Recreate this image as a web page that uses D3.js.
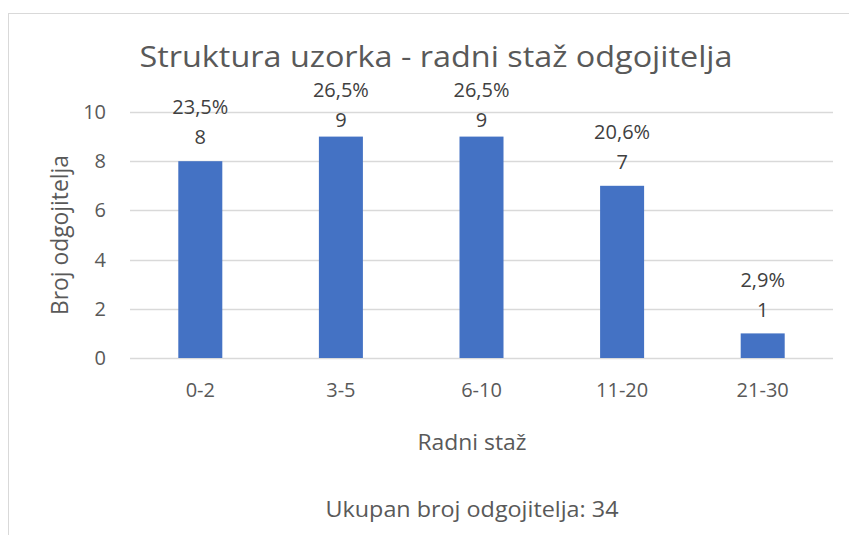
<!DOCTYPE html>
<html>
<head>
<meta charset="utf-8">
<script src="https://cdn.jsdelivr.net/npm/d3@7"></script>
<style>
  body { margin: 0; background: #fff; }
  text { font-family: "Open Sans", "Noto Sans", sans-serif; }
</style>
</head>
<body>
<div id="chart"></div>
<script>
// data
var categories = ["0-2", "3-5", "6-10", "11-20", "21-30"];
var counts = [8, 9, 9, 7, 1];
var percents = ["23,5%", "26,5%", "26,5%", "20,6%", "2,9%"];
var yTicks = [0, 2, 4, 6, 8, 10];

var W = 849, H = 535;
var plot = {left: 130, right: 833, top: 112, bottom: 358};
var textColor = "#595959", labelColor = "#404040", gridColor = "#d9d9d9", barColor = "#4472c4";

var svg = d3.select("#chart").append("svg")
    .attr("width", W)
    .attr("height", H);

// chart frame (right/bottom edges fall outside the window)
svg.append("rect")
    .attr("x", 8.5).attr("y", 13.5)
    .attr("width", W + 20).attr("height", H + 20)
    .attr("fill", "#fff")
    .attr("stroke", gridColor)
    .attr("stroke-width", 1);

var x = d3.scaleBand()
    .domain(categories)
    .range([plot.left, plot.right])
    .paddingInner(0.687)
    .paddingOuter(0.687 / 2);

var y = d3.scaleLinear()
    .domain([0, 10])
    .range([plot.bottom, plot.top]);

// gridlines
svg.append("g").selectAll("line")
    .data(yTicks)
    .enter().append("line")
        .attr("x1", plot.left).attr("x2", plot.right)
        .attr("y1", function(d) { return Math.round(y(d)) + 0.5; })
        .attr("y2", function(d) { return Math.round(y(d)) + 0.5; })
        .attr("stroke", gridColor)
        .attr("stroke-width", 1.5);

// y axis labels
var yAxis = d3.axisLeft(y).tickValues(yTicks).tickSize(0).tickPadding(0);
var gy = svg.append("g")
    .attr("transform", "translate(106,0)")
    .call(yAxis);
gy.select(".domain").remove();
gy.selectAll("text")
    .attr("fill", textColor)
    .attr("font-size", 20)
    .style("font-family", "'Open Sans', sans-serif");

// x axis labels
var xAxis = d3.axisBottom(x).tickSize(0).tickPadding(0);
var gx = svg.append("g")
    .attr("transform", "translate(0,397)")
    .call(xAxis);
gx.select(".domain").remove();
gx.selectAll("text")
    .attr("dy", 0)
    .attr("fill", textColor)
    .attr("font-size", 20)
    .style("font-family", "'Open Sans', sans-serif");

// bars
svg.selectAll(".bar")
    .data(counts)
    .enter().append("rect")
        .attr("class", "bar")
        .attr("x", function(d, i) { return x(categories[i]); })
        .attr("y", function(d) { return y(d); })
        .attr("width", x.bandwidth())
        .attr("height", function(d) { return y(0) - y(d); })
        .attr("fill", barColor);

// data labels: percent on top, count below; pushed down when they would hit the title
function pctY(v) { return Math.max(y(v) - 54, 89.5); }

svg.selectAll(".val")
    .data(counts)
    .enter().append("text")
        .attr("class", "val")
        .attr("x", function(d, i) { return x(categories[i]) + x.bandwidth() / 2; })
        .attr("y", function(d) { return pctY(d) + 30; })
        .attr("dy", "0.36em")
        .attr("text-anchor", "middle")
        .attr("font-size", 20)
        .attr("fill", labelColor)
        .text(function(d) { return d; });

svg.selectAll(".pct")
    .data(percents)
    .enter().append("text")
        .attr("class", "pct")
        .attr("x", function(d, i) { return x(categories[i]) + x.bandwidth() / 2; })
        .attr("y", function(d, i) { return pctY(counts[i]); })
        .attr("dy", "0.36em")
        .attr("text-anchor", "middle")
        .attr("font-size", 20)
        .attr("fill", labelColor)
        .text(function(d) { return d; });

// title
svg.append("text")
    .attr("x", 436)
    .attr("y", 67)
    .attr("text-anchor", "middle")
    .attr("font-size", 30)
    .attr("fill", textColor)
    .attr("textLength", 593)
    .attr("lengthAdjust", "spacingAndGlyphs")
    .text("Struktura uzorka - radni staž odgojitelja");

// axis titles
svg.append("text")
    .attr("transform", "translate(60," + ((plot.top + plot.bottom) / 2) + ") rotate(-90)")
    .attr("text-anchor", "middle")
    .attr("dy", "0.36em")
    .attr("font-size", 23)
    .attr("fill", textColor)
    .attr("textLength", 160)
    .attr("lengthAdjust", "spacingAndGlyphs")
    .text("Broj odgojitelja");

svg.append("text")
    .attr("x", 472)
    .attr("y", 450)
    .attr("text-anchor", "middle")
    .attr("font-size", 22)
    .attr("fill", textColor)
    .attr("textLength", 109)
    .attr("lengthAdjust", "spacingAndGlyphs")
    .text("Radni staž");

svg.append("text")
    .attr("x", 472)
    .attr("y", 517)
    .attr("text-anchor", "middle")
    .attr("font-size", 22)
    .attr("fill", textColor)
    .attr("textLength", 293)
    .attr("lengthAdjust", "spacingAndGlyphs")
    .text("Ukupan broj odgojitelja: 34");
</script>
</body>
</html>
